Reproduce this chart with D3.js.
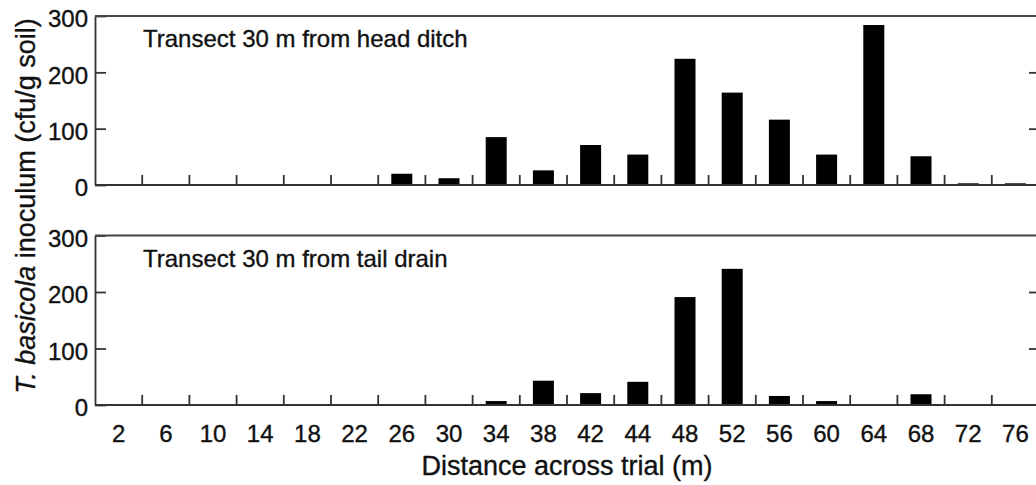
<!DOCTYPE html>
<html>
<head>
<meta charset="utf-8">
<script src="https://cdn.jsdelivr.net/npm/d3@7/dist/d3.min.js"></script>
<style>
  html, body { margin: 0; padding: 0; background: #fff; }
  svg { display: block; font-family: "Liberation Sans", Arial, sans-serif; }
  svg text { stroke: #111; stroke-width: 0.35px; }
</style>
</head>
<body>
<svg id="chart" width="1036" height="485"></svg>
<script>
// Distance across the trial (m) for each sampling point
const categories = ["2","6","10","14","18","22","26","30","34","38","42","44","48","52","56","60","64","68","72","76"];
// T. basicola inoculum (cfu/g soil) along each transect
const headDitch = [0,0,0,0,0,0,20,12,85,26,71,54,224,164,116,54,284,51,3,3];
const tailDrain = [0,0,0,0,0,0,0,0,7,43,21,41,191,241,16,7,0,19,0,0];
const yTicks = [0,100,200,300];
const panelTitles = ["Transect 30 m from head ditch", "Transect 30 m from tail drain"];

const svg = d3.select("#chart");
const axisColor = "#333";
const textColor = "#111";

const left = 95, right = 1039;
const x = d3.scaleBand()
  .domain(categories)
  .range([left, right])
  .paddingInner(0.555)
  .paddingOuter(0.2775);
const gap = (x.step() - x.bandwidth()) / 2;

const panels = [
  { values: headDitch, top: 16, bottom: 185, title: panelTitles[0], labels: false },
  { values: tailDrain, top: 235.5, bottom: 405, title: panelTitles[1], labels: true }
];

panels.forEach(p => {
  const y = d3.scaleLinear().domain([0, 300]).range([p.bottom, p.top]);
  const g = svg.append("g");

  // bars
  g.selectAll("rect.bar")
    .data(categories.map((c, i) => ({ c, v: p.values[i] })).filter(d => d.v > 0))
    .join("rect")
    .attr("class", "bar")
    .attr("x", d => x(d.c))
    .attr("width", x.bandwidth())
    .attr("y", d => y(d.v))
    .attr("height", d => y(0) - y(d.v))
    .attr("fill", "#000");

  // left axis with inward ticks
  const ax = g.append("g")
    .attr("transform", `translate(${left},0)`)
    .call(d3.axisLeft(y).tickValues(yTicks).tickSizeInner(-11).tickSizeOuter(0).tickPadding(7));
  ax.select(".domain").attr("stroke", axisColor).attr("stroke-width", 1.8);
  ax.selectAll(".tick line").attr("stroke", axisColor).attr("stroke-width", 1.8);
  ax.selectAll(".tick text")
    .attr("fill", textColor)
    .style("font-size", "24px")
    .attr("dy", "0.45em");

  // right axis ticks (inward)
  const ar = g.append("g")
    .attr("transform", `translate(${right},0)`)
    .call(d3.axisRight(y).tickValues([100, 200]).tickSizeInner(-10).tickSizeOuter(0).tickFormat(""));
  ar.select(".domain").attr("stroke", axisColor).attr("stroke-width", 1.8);
  ar.selectAll(".tick line").attr("stroke", axisColor).attr("stroke-width", 1.8);

  // top frame
  g.append("line")
    .attr("x1", left).attr("x2", right)
    .attr("y1", y(300)).attr("y2", y(300))
    .attr("stroke", "#444").attr("stroke-width", 2);

  // baseline
  g.append("line")
    .attr("x1", left).attr("x2", right)
    .attr("y1", y(0)).attr("y2", y(0))
    .attr("stroke", axisColor).attr("stroke-width", 1.8);

  // boundary ticks between sampling points
  g.selectAll("line.bt")
    .data(categories.slice(1))
    .join("line")
    .attr("class", "bt")
    .attr("x1", d => x(d) - gap).attr("x2", d => x(d) - gap)
    .attr("y1", y(0)).attr("y2", y(0) - 10)
    .attr("stroke", axisColor).attr("stroke-width", 1.8);

  // panel title
  g.append("text")
    .attr("x", 143).attr("y", p.top + 31)
    .attr("fill", textColor)
    .style("font-size", "24px")
    .text(p.title);

  // category labels under the lower panel
  if (p.labels) {
    const ab = g.append("g")
      .attr("transform", `translate(0,${p.bottom})`)
      .call(d3.axisBottom(x).tickSize(0).tickPadding(0));
    ab.select(".domain").remove();
    ab.selectAll(".tick text")
      .attr("fill", textColor)
      .attr("dy", null)
      .attr("y", 37)
      .style("font-size", "24px");
  }
});

// x-axis title
svg.append("text")
  .attr("x", 567).attr("y", 475)
  .attr("text-anchor", "middle")
  .attr("fill", textColor)
  .style("font-size", "27px")
  .text("Distance across trial (m)");

// y-axis title
const yt = svg.append("text")
  .attr("transform", "translate(35,206) rotate(-90)")
  .attr("text-anchor", "middle")
  .attr("fill", textColor)
  .style("font-size", "27px");
yt.append("tspan").style("font-style", "italic").text("T. basicola");
yt.append("tspan").text(" inoculum (cfu/g soil)");
</script>
</body>
</html>
